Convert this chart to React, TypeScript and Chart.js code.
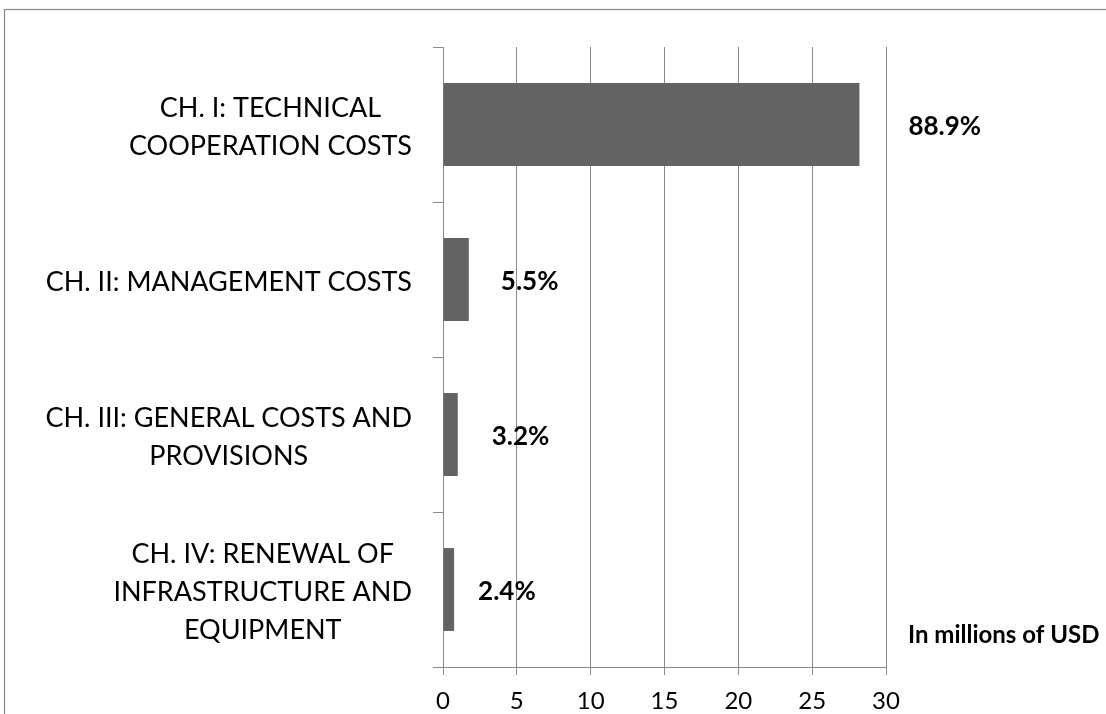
import React, { useEffect, useRef } from "react";
import { Chart, registerables } from "chart.js";

Chart.register(...registerables);

const categories: string[][] = [
  ["CH. I: TECHNICAL", "COOPERATION COSTS"],
  ["CH. II: MANAGEMENT COSTS"],
  ["CH. III: GENERAL COSTS AND", "PROVISIONS"],
  ["CH. IV: RENEWAL OF", "INFRASTRUCTURE AND", "EQUIPMENT"],
];
const values = [28.2, 1.75, 1.0, 0.75];
const shareLabels = ["88.9%", "5.5%", "3.2%", "2.4%"];
const xMin = 0;
const xMax = 30;
const xStep = 5;
const unitNote = "In millions of USD";

// styling constants
const FONT = "Lato, 'Open Sans', sans-serif";
const labelOffsets = [49, 32, 34, 24];
const GRID = "#8a8a8a";

const decorPlugin = {
  id: "decor",
  beforeDraw(chart: any) {
    const ctx = chart.ctx;
    ctx.save();
    ctx.fillStyle = "#ffffff";
    ctx.fillRect(0, 0, chart.width, chart.height);
    ctx.strokeStyle = "#878787";
    ctx.lineWidth = 1.2;
    ctx.strokeRect(4.5, 9.5, chart.width + 20, chart.height + 20);
    ctx.restore();
  },
  afterDraw(chart: any) {
    const ctx = chart.ctx;
    const yScale = chart.scales.y;
    const area = chart.chartArea;
    ctx.save();
    ctx.fillStyle = "#000000";
    ctx.textBaseline = "middle";
    ctx.textAlign = "center";
    ctx.font = `27px ${FONT}`;
    const lineSpacing = 38;
    categories.forEach((lines, i) => {
      const cy = yScale.getPixelForValue(i) + 3;
      const widest = Math.max(...lines.map((l) => ctx.measureText(l).width));
      const cx = area.left - 31 - widest / 2;
      lines.forEach((l, j) => {
        ctx.fillText(l, cx, cy + (j - (lines.length - 1) / 2) * lineSpacing);
      });
    });
    ctx.font = `bold 26px ${FONT}`;
    ctx.textAlign = "left";
    const meta = chart.getDatasetMeta(0);
    meta.data.forEach((bar: any, i: number) => {
      ctx.fillText(shareLabels[i], bar.x + labelOffsets[i], bar.y + 2);
    });
    ctx.font = `bold 24px ${FONT}`;
    ctx.fillText(unitNote, area.right + 22, area.bottom - 32);
    ctx.restore();
  },
};

export default function App() {
  const ref = useRef<HTMLCanvasElement | null>(null);
  useEffect(() => {
    document.body.style.margin = "0";
    document.body.style.overflow = "hidden";
    if (!ref.current) return;
    const chart = new Chart(ref.current, {
      type: "bar",
      data: {
        labels: categories.map((c) => c.join(" ")),
        datasets: [
          {
            data: values,
            backgroundColor: "#636363",
            borderWidth: 0,
            categoryPercentage: 1,
            barPercentage: 0.535,
          },
        ],
      },
      options: {
        indexAxis: "y",
        responsive: false,
        animation: false,
        layout: { padding: { left: 433, right: 220, top: 47, bottom: 0 } },
        plugins: {
          legend: { display: false },
          tooltip: { enabled: false },
        },
        scales: {
          x: {
            min: xMin,
            max: xMax,
            ticks: {
              stepSize: xStep,
              color: "#000",
              padding: 12,
              font: { family: FONT, size: 24 },
            },
            grid: { color: GRID, lineWidth: 1, tickLength: 8 },
            border: { color: GRID, width: 1 },
            afterFit: (s: any) => {
              s.height = 47;
            },
          },
          y: {
            type: "category",
            offset: true,
            ticks: { display: false },
            grid: {
              offset: true,
              drawOnChartArea: false,
              color: GRID,
              tickLength: 10,
            },
            border: { color: GRID, width: 1 },
          },
        },
      },
      plugins: [decorPlugin],
    });
    return () => chart.destroy();
  }, []);
  return <canvas ref={ref} width={1106} height={714} />;
}
